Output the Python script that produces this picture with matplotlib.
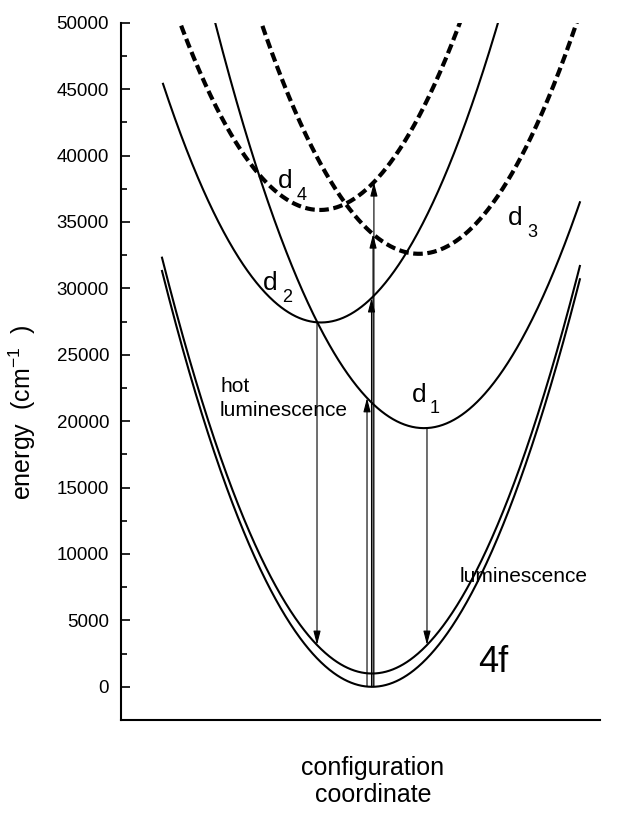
import numpy as np
import matplotlib
matplotlib.use("Agg")
import matplotlib.pyplot as plt
from matplotlib.ticker import MultipleLocator

plt.rcParams['font.family'] = ['Liberation Sans', 'DejaVu Sans']
plt.rcParams['mathtext.fontset'] = 'custom'
plt.rcParams['mathtext.rm'] = 'Liberation Sans'
plt.rcParams['mathtext.it'] = 'Liberation Sans:italic'

# Potential curves: E(Q) = E0 + k (Q - Q0)^2  (configuration coordinate, arb. units)
curve_names = ['4f', "4f'", 'd1', 'd2', 'd3', 'd4']
curve_q0 = [52.4, 52.4, 63.26, 41.75, 62.21, 41.54]
curve_e0 = [0, 1000, 19475, 27430, 32600, 35900]
curve_k = [16.29, 16.29, 16.06, 16.52, 16.06, 16.52]
curve_qmin = [8.56, 8.56, 0.0, 8.77, 0.0, 0.0]
curve_qmax = [95.8, 95.8, 95.8, 100.0, 100.0, 100.0]
curve_dashed = [False, False, False, False, True, True]

# Transitions (Q position, from curve, to curve)
arrow_q = [40.92, 63.88, 51.36, 52.3, 52.62, 52.8]
arrow_from = ['d2', 'd1', '4f', '4f', '4f', '4f']
arrow_to = ["4f'", "4f'", 'd1', 'd2', 'd3', 'd4']


def energy(name, q):
    i = curve_names.index(name)
    return curve_e0[i] + curve_k[i] * (q - curve_q0[i]) ** 2


fig = plt.figure(figsize=(6.22, 8.21), dpi=100)
ax = fig.add_axes([121 / 622, 1 - 720 / 821, 479 / 622, 697.3 / 821])

for i, name in enumerate(curve_names):
    q = np.linspace(curve_qmin[i], curve_qmax[i], 600)
    e = energy(name, q)
    if curve_dashed[i]:
        ax.plot(q, e, color='black', lw=3.0, linestyle=(0, (2.3, 1.1)))
    else:
        ax.plot(q, e, color='black', lw=1.5)

for q, a, b in zip(arrow_q, arrow_from, arrow_to):
    ax.annotate('', xy=(q, energy(b, q)), xytext=(q, energy(a, q)),
                arrowprops=dict(arrowstyle='-|>,head_length=0.7,head_width=0.18',
                                mutation_scale=12, lw=0.8, color='black',
                                shrinkA=0, shrinkB=0))

# state labels
for txt, sub, xd, yd, xs, ys in [('d', '4', 32.8, 37555, 36.7, 36651),
                                 ('d', '2', 29.6, 29875, 33.6, 28972),
                                 ('d', '3', 80.8, 34769, 84.8, 33866),
                                 ('d', '1', 60.75, 21442, 64.5, 20614)]:
    ax.text(xd, yd, txt, fontsize=19, ha='left', va='baseline')
    ax.text(xs, ys, sub, fontsize=13, ha='left', va='baseline')

ax.text(20.7, 22195, 'hot', fontsize=15, ha='left', va='baseline')
ax.text(20.5, 20388, 'luminescence', fontsize=15, ha='left', va='baseline')
ax.text(70.6, 7891, 'luminescence', fontsize=15, ha='left', va='baseline')
ax.text(74.5, 1114, '4f', fontsize=26, ha='left', va='baseline')

ax.set_xlim(0, 100)
ax.set_ylim(-2500, 50000)
ax.set_xticks([])
ax.yaxis.set_major_locator(MultipleLocator(5000))
ax.yaxis.set_minor_locator(MultipleLocator(2500))
ax.tick_params(axis='y', which='major', direction='in', length=6.5, width=1.2,
               labelsize=13.5, pad=8.5)
ax.tick_params(axis='y', which='minor', direction='in', length=4, width=1.2)
for s in ['top', 'right']:
    ax.spines[s].set_visible(False)
for s in ['left', 'bottom']:
    ax.spines[s].set_linewidth(1.5)

ax.set_ylabel(r'energy  (cm$^{\mathregular{-1}}$  )', fontsize=18)
ax.yaxis.set_label_coords(-0.173, 0.442)
ax.set_xlabel('configuration\ncoordinate', fontsize=18, linespacing=1.2)
ax.xaxis.set_label_coords(0.526, -0.051)

fig.savefig('out.png', dpi=100)
